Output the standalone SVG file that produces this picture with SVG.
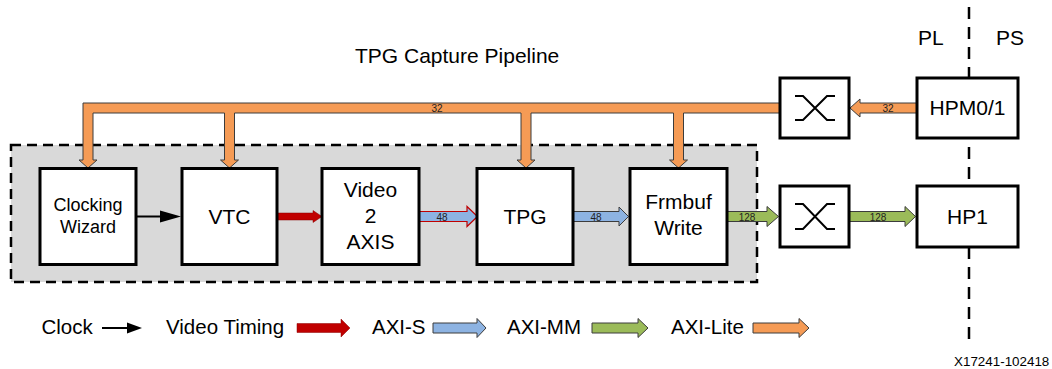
<svg xmlns="http://www.w3.org/2000/svg" width="1052" height="369" viewBox="0 0 1052 369">
<style>
text{font-family:"Liberation Sans",Arial,sans-serif;fill:#000}
.lbl{font-size:21px;text-anchor:middle}
.sm{font-size:18px;text-anchor:middle}
.bw{font-size:10px;text-anchor:middle;fill:#222}
.leg{font-size:20.5px}
.box{fill:#fff;stroke:#000;stroke-width:3}
.xb{fill:none;stroke:#000;stroke-width:2}
.lite{fill:#F59B55;stroke:#3c3c3c;stroke-width:1}
.axis{fill:#8DB3E2;stroke:#3c3c3c;stroke-width:1}
.mm{fill:#9BBB59;stroke:#3c3c3c;stroke-width:1}
.vt{fill:#C00000;stroke:#8b0000;stroke-width:0.5}
</style>
<rect x="11" y="145" width="746" height="137" fill="#D9D9D9" stroke="#000" stroke-width="2.5" stroke-dasharray="10 6"/>
<line x1="969" y1="7" x2="969" y2="342" stroke="#000" stroke-width="2.5" stroke-dasharray="12 8"/>
<text x="355" y="63" style="font-size:21px">TPG Capture Pipeline</text>
<text x="918" y="45" style="font-size:21px">PL</text>
<text x="996" y="45" style="font-size:21px">PS</text>
<g id="connectors">
<path class="lite" d="M83 103 H780 V113 H683.5 V160 H687.5 L678.5 168 L669.5 160 H673.5 V113 H531 V160 H535 L526 168 L517 160 H521 V113 H234.5 V160 H238.5 L229.5 168 L220.5 160 H224.5 V113 H93 V160 H97 L88 168 L79 160 H83 Z"/>
<text class="bw" x="437" y="111.5">32</text>
<path class="lite" d="M917 103 H860 V99 L850 108 L860 117 V113 H917 Z"/>
<text class="bw" x="888" y="111.5">32</text>
<line x1="136" y1="216.5" x2="162" y2="216.5" stroke="#000" stroke-width="2"/>
<path d="M160 210.5 L181 216.5 L160 222.5 Z" fill="#000"/>
<path class="vt" d="M277 213 H313 V210.5 L322 216.5 L313 222.5 V220 H277 Z"/>
<path d="M419 211.5 H467 V206.5 L477.5 216.5 L467 226.5 V221.5 H419 Z" fill="#8DB3E2" stroke="#C00000" stroke-width="1.2"/>
<text class="bw" x="442" y="220.5">48</text>
<path class="axis" d="M573.5 211.5 H619 V207 L628.5 216.5 L619 226 V221.5 H573.5 Z"/>
<text class="bw" x="596" y="220.5">48</text>
<path class="mm" d="M727 211.5 H767 V206.5 L778.5 216.5 L767 226.5 V221.5 H727 Z"/>
<text class="bw" x="747" y="220.5">128</text>
<path class="mm" d="M849 211.5 H905 V206.5 L915.5 216.5 L905 226.5 V221.5 H849 Z"/>
<text class="bw" x="878" y="220.5">128</text>
</g>
<g id="clocking-wizard"><rect class="box" x="40" y="168.5" width="96" height="96"/><text class="sm" x="88" y="211">Clocking</text><text class="sm" x="88" y="233">Wizard</text></g>
<g id="vtc"><rect class="box" x="182" y="168.5" width="95" height="96"/><text class="lbl" x="229.5" y="223.5">VTC</text></g>
<g id="video2axis"><rect class="box" x="322" y="168.5" width="97" height="96"/><text class="lbl" x="370.5" y="197">Video</text><text class="lbl" x="370.5" y="223">2</text><text class="lbl" x="370.5" y="248.5">AXIS</text></g>
<g id="tpg"><rect class="box" x="477" y="168.5" width="96" height="96"/><text class="lbl" x="525" y="223.5">TPG</text></g>
<g id="frmbuf-write"><rect class="box" x="630" y="168.5" width="97" height="96"/><text class="lbl" x="678.5" y="209">Frmbuf</text><text class="lbl" x="678.5" y="235">Write</text></g>
<g id="crossbar1"><rect class="box" x="780" y="78" width="69" height="60"/><path class="xb" d="M795 96 H803 L827 120 H835 M795 120 H803 L827 96 H835"/></g>
<g id="crossbar2"><rect class="box" x="780" y="186" width="69" height="61"/><path class="xb" d="M795 204 H803 L827 229 H835 M795 229 H803 L827 204 H835"/></g>
<g id="hpm"><rect class="box" x="917" y="78" width="101" height="60"/><text class="lbl" x="967.5" y="115">HPM0/1</text></g>
<g id="hp1"><rect class="box" x="917" y="186" width="101" height="61"/><text class="lbl" x="967.5" y="224">HP1</text></g>
<g id="legend">
<text class="leg" x="41.5" y="334">Clock</text>
<line x1="102" y1="328" x2="130" y2="328" stroke="#000" stroke-width="2"/>
<path d="M127 322.5 L142 328 L127 333.5 Z" fill="#000"/>
<text class="leg" x="166" y="334">Video Timing</text>
<path class="vt" d="M297 323.5 H341 V319 L350 328 L341 337 V332.5 H297 Z"/>
<text class="leg" x="372" y="334">AXI-S</text>
<path class="axis" d="M433 323 H477 V318.5 L486 328 L477 337.5 V333 H433 Z"/>
<text class="leg" x="507" y="334">AXI-MM</text>
<path class="mm" d="M592 323 H638 V318.5 L648 328 L638 337.5 V333 H592 Z"/>
<text class="leg" x="671" y="334">AXI-Lite</text>
<path class="lite" d="M753 323 H799 V318.5 L809 328 L799 337.5 V333 H753 Z"/>
</g>
<text x="954" y="366" style="font-size:13.4px">X17241-102418</text>
</svg>
